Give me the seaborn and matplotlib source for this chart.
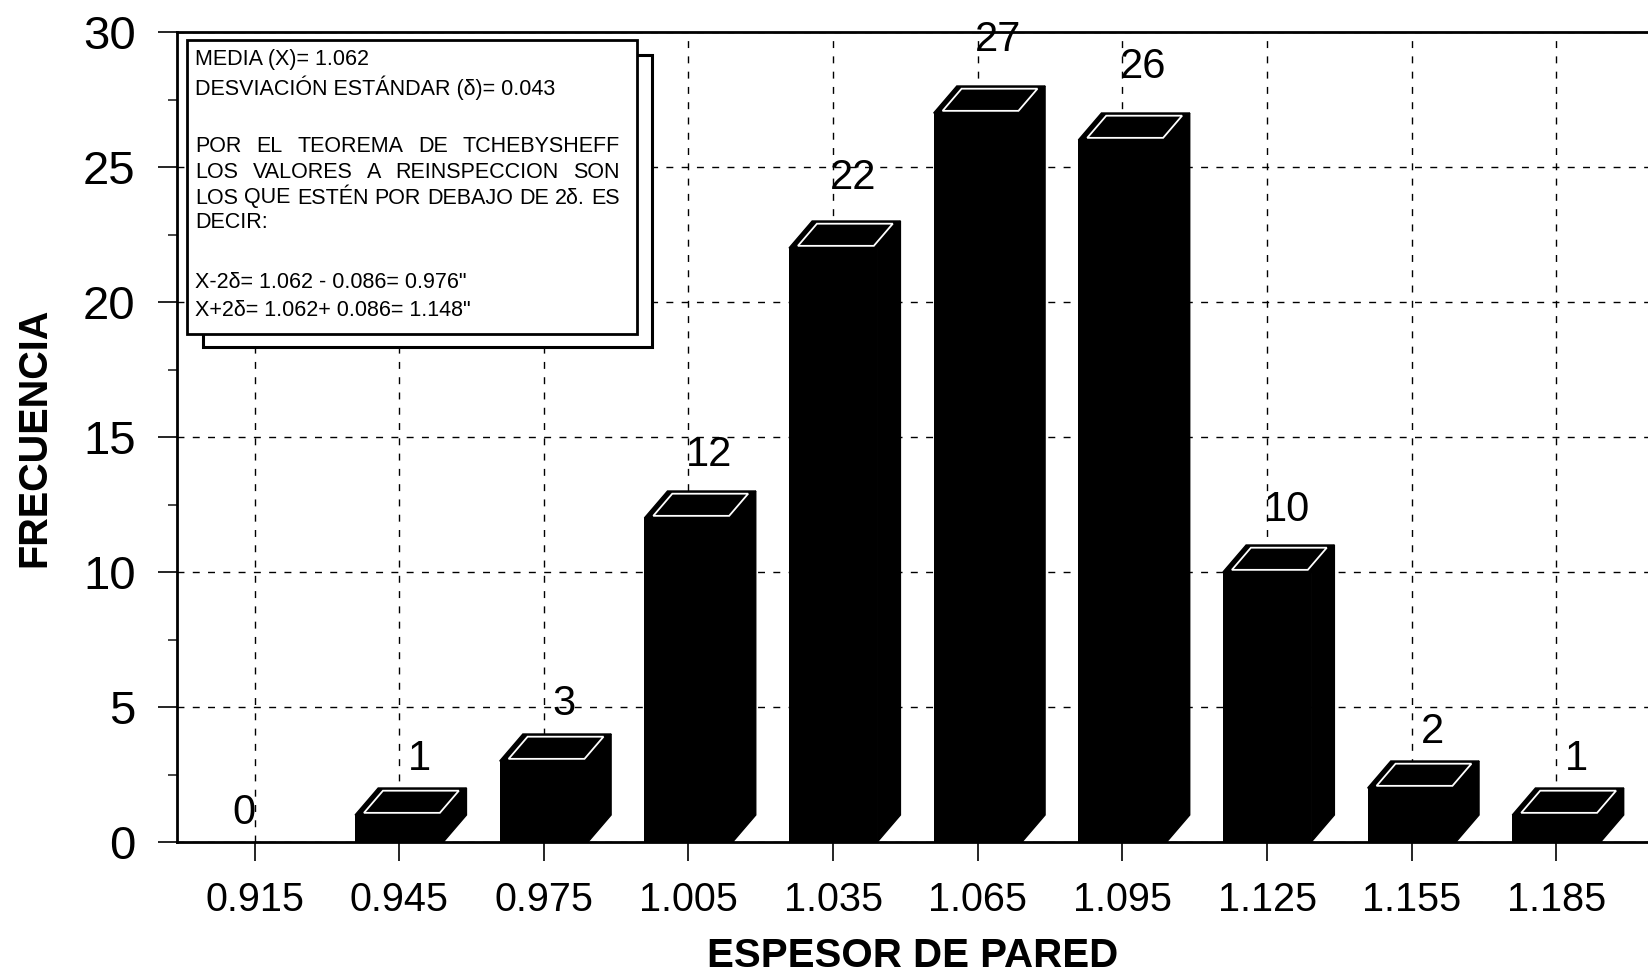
import matplotlib
matplotlib.use("Agg")
import matplotlib.pyplot as plt
from matplotlib.patches import Polygon, Rectangle
from matplotlib.ticker import MultipleLocator
import seaborn as sns
import pandas as pd

# Wall-thickness classes and their frequencies
espesor = ["0.915", "0.945", "0.975", "1.005", "1.035", "1.065", "1.095", "1.125", "1.155", "1.185"]
frecuencia = [0, 1, 3, 12, 22, 27, 26, 10, 2, 1]

media = 1.062
desviacion = 0.043

box_lines = [
    ("MEDIA (X)= 1.062", False),
    ("DESVIACIÓN ESTÁNDAR (δ)= 0.043", False),
    ("", False),
    ("POR EL TEOREMA DE TCHEBYSHEFF", True),
    ("LOS VALORES A REINSPECCION SON", True),
    ("LOS QUE ESTÉN POR DEBAJO DE 2δ. ES", True),
    ("DECIR:", False),
    ("", False),
    ("X-2δ= 1.062 - 0.086= 0.976\"", False),
    ("X+2δ= 1.062+ 0.086= 1.148\"", False),
]

sns.set_theme(style="white")
plt.rcParams["font.family"] = ["Liberation Sans", "DejaVu Sans"]
plt.rcParams["text.color"] = "black"
plt.rcParams["axes.labelcolor"] = "black"

W, H = 1649, 976
fig = plt.figure(figsize=(W / 100, H / 100), dpi=100)
ax = fig.add_axes([177 / W, (H - 842) / H, (W - 177) / W, (842 - 32) / H])

df = pd.DataFrame({"espesor": espesor, "frecuencia": frecuencia})
bar_w = 0.61
sns.barplot(data=df, x="espesor", y="frecuencia", color="black", saturation=1,
            width=bar_w, ax=ax, zorder=3, edgecolor="black", linewidth=0)

# 3D look: top and side faces of each prism
dx = 0.16   # depth offset along x (category units)
dy = 1.0    # depth offset along y (data units)
for i, v in enumerate(frecuencia):
    if v <= 0:
        continue
    x0 = i - bar_w / 2
    x1 = i + bar_w / 2
    top = [(x0, v), (x1, v), (x1 + dx, v + dy), (x0 + dx, v + dy)]
    side = [(x1, 0), (x1, v), (x1 + dx, v + dy), (x1 + dx, dy)]
    ax.add_patch(Polygon(side, closed=True, facecolor="black", edgecolor="black",
                         lw=1, zorder=3))
    ax.add_patch(Polygon(top, closed=True, facecolor="black", edgecolor="black",
                         lw=1, zorder=3))

    def pt(u, w):
        return (x0 + u * bar_w + w * dx, v + w * dy)
    inner = [pt(0.08, 0.08), pt(0.94, 0.08), pt(0.94, 0.9), pt(0.08, 0.9)]
    ax.add_patch(Polygon(inner, closed=True, facecolor="none", edgecolor="white",
                         lw=1.3, zorder=4))

# value labels
for i, v in enumerate(frecuencia):
    if v > 0:
        ax.text(i + 0.14, v + dy + 0.3 + 0.025 * v, str(v), ha="center", va="bottom",
                fontsize=30, color="black", zorder=5, clip_on=False)
    else:
        ax.text(i - 0.07, 0.35, str(v), ha="center", va="bottom",
                fontsize=30, color="black", zorder=5, clip_on=False)

ax.set_xlim(-0.536, 9.64)
ax.set_ylim(0, 30)
ax.yaxis.set_major_locator(MultipleLocator(5))
ax.yaxis.set_minor_locator(MultipleLocator(2.5))

ax.set_axisbelow(True)
ax.grid(True, which="major", color="black", linestyle=(0, (5, 6)), linewidth=1.0)

for side in ["left", "bottom", "top"]:
    ax.spines[side].set_visible(True)
    ax.spines[side].set_color("black")
    ax.spines[side].set_linewidth(2)
ax.spines["right"].set_visible(False)

ax.tick_params(axis="y", which="major", direction="out", length=13.7, width=1.2,
               labelsize=34, pad=16, left=True, colors="black")
ax.tick_params(axis="y", which="minor", direction="out", length=6.5, width=1.2, left=True)
ax.tick_params(axis="x", which="major", direction="out", length=13.7, width=1.2,
               labelsize=28.5, pad=14.5, bottom=True, colors="black")

ax.set_xlabel("ESPESOR DE PARED", fontsize=29, fontweight="bold", va="center",
              color="black")
ax.set_ylabel("FRECUENCIA", fontsize=28.5, fontweight="bold", va="center",
              color="black")
ax.xaxis.set_label_coords(0.5, (842 - 956) / 810)
ax.yaxis.set_label_coords((34 - 177) / 1472, 0.5)

# annotation box with drop shadow
def fx(px):
    return px / W


def fy(py):
    return 1 - py / H


shadow = Rectangle((fx(203), fy(347)), fx(652) - fx(203), fy(55) - fy(347),
                   transform=fig.transFigure, facecolor="white", edgecolor="black",
                   lw=2.2, zorder=6)
main = Rectangle((fx(187), fy(334)), fx(637) - fx(187), fy(40) - fy(334),
                 transform=fig.transFigure, facecolor="white", edgecolor="black",
                 lw=2, zorder=7)
fig.add_artist(shadow)
fig.add_artist(main)

renderer = fig.canvas.get_renderer()
left_px, right_px = 195, 620
line_y = [60, 88, None, 147, 173, 198, 223, None, 282, 310]
for (txt, justify), ypx in zip(box_lines, line_y):
    if not txt:
        continue
    if not justify:
        fig.text(fx(left_px), fy(ypx), txt, fontsize=15.5, ha="left", va="center",
                 color="black", zorder=8)
        continue
    words = txt.split()
    arts = [fig.text(fx(left_px), fy(ypx), w_, fontsize=15.5, ha="left", va="center",
                     color="black", zorder=8) for w_ in words]
    widths = [a.get_window_extent(renderer).width for a in arts]
    gap = (right_px - left_px - sum(widths)) / (len(words) - 1)
    x = left_px
    for a, wd in zip(arts, widths):
        a.set_x(fx(x))
        x += wd + gap

fig.savefig("out.png", dpi=100)
